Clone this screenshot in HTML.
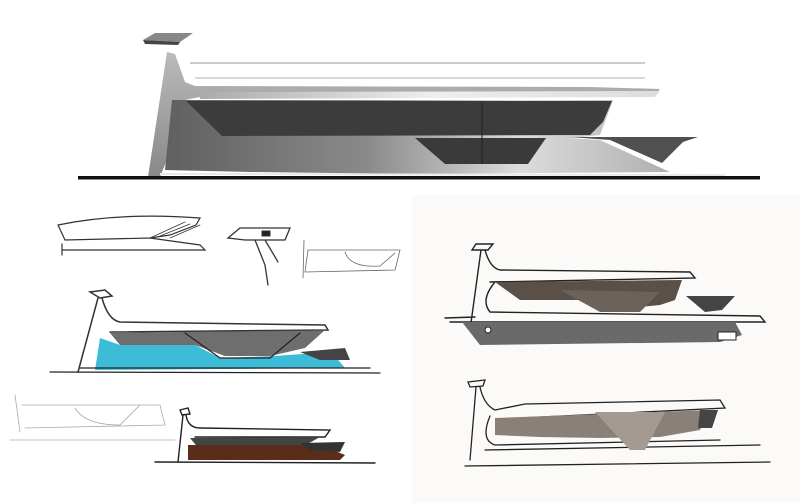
<!DOCTYPE html>
<html><head><style>
html,body{margin:0;padding:0;background:#fff;}
svg{display:block;}
</style></head><body>
<svg width="800" height="503" viewBox="0 0 800 503" xmlns="http://www.w3.org/2000/svg">
<defs>
<linearGradient id="hull" x1="0" y1="0" x2="1" y2="0">
<stop offset="0" stop-color="#606060"/><stop offset="0.4" stop-color="#8a8a8a"/><stop offset="0.7" stop-color="#dcdcdc"/><stop offset="1" stop-color="#b0b0b0"/>
</linearGradient>
<linearGradient id="mast" x1="0" y1="0" x2="0" y2="1">
<stop offset="0" stop-color="#bbb"/><stop offset="1" stop-color="#888"/>
</linearGradient>
<linearGradient id="deck" x1="0" y1="0" x2="1" y2="0">
<stop offset="0" stop-color="#aaa"/><stop offset="0.5" stop-color="#eee"/><stop offset="1" stop-color="#ddd"/>
</linearGradient>
</defs>
<rect x="0" y="0" width="800" height="503" fill="#fff"/>
<rect x="412" y="195" width="388" height="308" fill="#fbfaf8"/>

<!-- TOP RENDER -->
<polygon points="143,40 155,33 193,33 180,42" fill="#888"/>
<polygon points="143,40 180,42 178,45 145,44" fill="#444"/>
<line x1="190" y1="63" x2="645" y2="63" stroke="#bbb" stroke-width="1.5"/>
<line x1="195" y1="78" x2="645" y2="78" stroke="#ccc" stroke-width="1.5"/>
<polygon points="148,177 167,52 175,54 185,82 195,86 590,87 660,89 655,95 200,97 185,100 175,140 160,177" fill="url(#mast)"/>
<polygon points="200,92 660,91 655,97 200,99" fill="url(#deck)"/>
<polygon points="172,100 613,100 600,135 570,138 600,140 670,172 410,174 250,172 165,170" fill="url(#hull)"/>
<line x1="160" y1="174" x2="725" y2="175" stroke="#e8e8e8" stroke-width="2"/>
<polygon points="186,101 612,101 603,122 590,135 222,136" fill="#3c3c3c"/>
<polygon points="415,138 546,138 528,164 445,164" fill="#3a3a3a"/>
<polygon points="570,137 698,137 683,142 662,163 610,140" fill="#505050"/>
<line x1="482" y1="102" x2="482" y2="164" stroke="#222" stroke-width="1"/>
<rect x="78" y="176" width="682" height="3.5" fill="#111"/>

<g fill="none" stroke="#333" stroke-linecap="round">
<!-- top-left small sketch -->
<path d="M58,225 Q120,212 200,218 L196,225 L170,235 L150,238 M58,225 L65,240 L150,238 L200,245 L205,250 L62,250 M62,244 L62,255" stroke-width="1.2"/>
<path d="M150,238 L185,222 M160,236 L190,224 M170,238 L200,225" stroke-width="0.7"/>
<!-- small mast -->
<path d="M228,238 L240,228 L290,228 L285,240 L245,240 Z M255,240 L265,265 L268,285 M265,240 L278,262" stroke-width="1.3"/>
<rect x="262" y="231" width="8" height="5" fill="#222"/>
<!-- small right -->
<path d="M308,250 L400,250 L395,270 L305,272 Z M304,240 L303,278 M345,252 Q350,268 380,266 L395,253" stroke-width="0.8" stroke="#666"/>

<!-- blue boat -->
<path d="M90,292 L105,290 L112,296 L100,298 Z M98,298 L78,372 M102,298 Q108,320 120,322 L325,325 L328,330 L110,332" stroke-width="1.5"/>
</g>
<polygon points="110,333 325,330 305,348 270,356 225,356 195,345 120,345" fill="#555" opacity="0.85"/>
<polygon points="100,338 120,345 195,345 220,358 275,356 330,352 340,362 345,368 95,370" fill="#3cbcd6"/>
<polygon points="300,352 345,348 350,360 320,360" fill="#444"/>
<g fill="none" stroke="#222" stroke-linecap="round">
<path d="M50,372 L380,373 M80,368 L370,368 M185,333 L220,358 L270,358 L300,333" stroke-width="1.2"/>

<!-- faint bottom-left -->
<path d="M15,395 L20,432 M22,405 L160,405 L165,425 L25,428 M10,440 L175,440 M75,408 Q85,425 120,425 L140,405" stroke="#aaa" stroke-width="0.8"/>

<!-- brown boat -->
<path d="M180,410 L188,408 L190,414 L182,415 Z M183,415 L178,462 M186,415 Q188,428 200,428 L330,430 L325,437 L195,437 M155,462 L375,463" stroke-width="1.4"/>
</g>
<polygon points="190,438 320,437 300,448 255,452 200,450" fill="#444"/>
<polygon points="188,445 320,445 345,455 340,460 188,460" fill="#5a2d18"/>
<polygon points="300,443 345,442 340,452 310,450" fill="#333"/>

<!-- right top boat -->
<g fill="none" stroke="#222" stroke-linecap="round">
<path d="M476,244 L493,244 L488,250 L472,250 Z M481,250 L470,330 M485,250 Q490,268 500,270 L690,272 L695,278 L490,282 M495,282 Q480,300 490,312 L760,316 L765,322 L450,322 M445,318 L475,317" stroke-width="1.4"/>
</g>
<polygon points="495,282 682,280 675,300 660,305 640,307 595,307 580,300 520,300" fill="#5a5048"/>
<polygon points="560,290 600,312 640,312 660,292" fill="#6b635b"/>
<polygon points="686,296 735,296 722,310 705,312" fill="#444"/>
<polygon points="462,322 735,322 742,335 720,342 480,345" fill="#6a6a6a"/>
<circle cx="488" cy="330" r="3" fill="#fff" stroke="#222"/>
<rect x="718" y="332" width="18" height="8" fill="#fff" stroke="#222"/>

<!-- right bottom boat -->
<g fill="none" stroke="#222" stroke-linecap="round">
<path d="M468,382 L485,380 L483,386 L470,387 Z M476,387 L470,460 M480,387 Q484,405 495,410 L525,404 L720,400 L725,408 L520,418 M490,416 Q480,440 495,445 L720,440 M465,466 L770,462 M485,450 L760,445" stroke-width="1.3"/>
</g>
<polygon points="495,418 710,410 700,430 660,437 600,438 540,437 495,435" fill="#8a8078"/>
<polygon points="595,412 630,450 645,450 665,412" fill="#a39a92"/>
<polygon points="700,410 718,410 712,428 698,428" fill="#444"/>
</svg>
</body></html>
